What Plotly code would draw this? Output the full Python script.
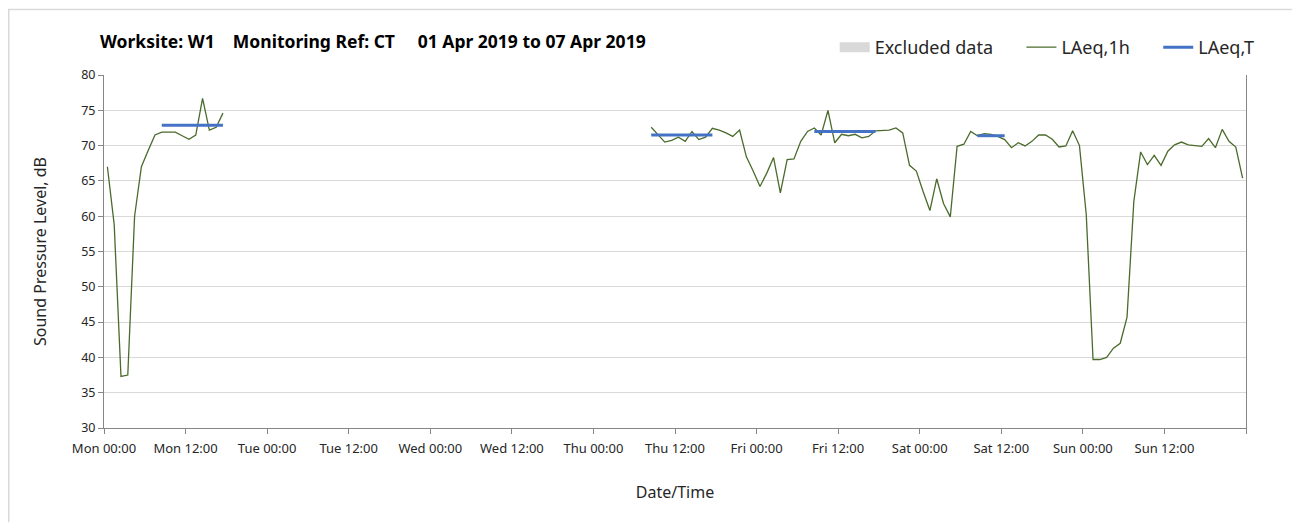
import pandas as pd
import plotly.graph_objects as go

# ---------------- data ----------------
title_text = ("Worksite: W1\u00a0\u00a0\u00a0 Monitoring Ref: CT\u00a0\u00a0\u00a0\u00a0 "
              "01 Apr 2019 to 07 Apr 2019")

# hourly LAeq,1h (timestamps at mid-hour)
mon_start = "2019-04-01 00:30"
mon_values = [67.0, 58.8, 37.3, 37.5, 60.0, 67.0, 69.3, 71.5, 71.9, 71.9, 71.9, 71.4,
              70.9, 71.5, 76.7, 72.2, 72.6, 74.6]

thu_start = "2019-04-04 08:30"
thu_sun_values = [
    # Thu 08:30 - 23:30
    72.6, 71.6, 70.5, 70.75, 71.2, 70.6, 72.0, 70.85, 71.2, 72.45, 72.2, 71.8, 71.3, 72.2, 68.4, 66.4,
    # Fri
    64.2, 66.1, 68.3, 63.3, 68.0, 68.1, 70.6, 72.0, 72.5, 71.5, 75.0, 70.4,
    71.6, 71.4, 71.6, 71.1, 71.3, 72.1, 72.1, 72.2, 72.5, 71.8, 67.2, 66.4,
    # Sat
    63.5, 60.8, 65.3, 61.8, 59.9, 69.9, 70.2, 72.0, 71.4, 71.7, 71.6, 71.3,
    70.85, 69.7, 70.4, 69.95, 70.6, 71.5, 71.5, 70.9, 69.8, 69.95, 72.1, 70.0,
    # Sun
    60.2, 39.7, 39.7, 40.0, 41.3, 42.0, 45.7, 62.1, 69.1, 67.3, 68.6, 67.2,
    69.2, 70.1, 70.5, 70.1, 70.0, 69.9, 71.0, 69.7, 72.3, 70.6, 69.8, 65.4,
]

# LAeq,T periods
period_starts = ["2019-04-01 08:30", "2019-04-04 08:30", "2019-04-05 08:30", "2019-04-06 08:30"]
period_ends = ["2019-04-01 17:30", "2019-04-04 17:30", "2019-04-05 17:30", "2019-04-06 12:30"]
period_values = [72.9, 71.5, 72.0, 71.4]

x_start = "2019-04-01 00:00"
x_end = "2019-04-08 00:00"

# ---------------- build series ----------------
mon_times = list(pd.date_range(mon_start, periods=len(mon_values), freq="h"))
thu_times = list(pd.date_range(thu_start, periods=len(thu_sun_values), freq="h"))
x_1h = mon_times + [None] + thu_times
y_1h = mon_values + [None] + thu_sun_values

x_T, y_T = [], []
for s, e, v in zip(period_starts, period_ends, period_values):
    x_T += [pd.Timestamp(s), pd.Timestamp(e), None]
    y_T += [v, v, None]

tick_times = pd.date_range(x_start, x_end, freq="12h")
tick_text = [t.strftime("%a %H:%M") for t in tick_times[:-1]] + [""]

FONT = "Noto Sans"
GREEN = "#4a6b2c"
BLUE = "#4472C4"
GREY = "#d9d9d9"
AXIS = "#868686"
TXT = "#262626"
SP = "\u00a0"

# page has an 8px body margin, so the figure is 8px smaller than the window
W, H = 1292, 514
ML, MR, MT, MB = 96, 54, 66.5, 93.5
PW, PH = W - ML - MR, H - MT - MB

fig = go.Figure()
fig.add_trace(go.Scatter(x=[None], y=[None], mode="lines", name="Excluded data" + SP * 5,
                         line=dict(color=GREY, width=10), xaxis="x2", yaxis="y"))
fig.add_trace(go.Scatter(x=x_1h, y=y_1h, mode="lines", name="LAeq,1h" + SP * 5,
                         line=dict(color=GREEN, width=1.3), connectgaps=False,
                         xaxis="x2", yaxis="y"))
fig.add_trace(go.Scatter(x=x_T, y=y_T, mode="lines", name="LAeq,T",
                         line=dict(color=BLUE, width=3), xaxis="x2", yaxis="y"))

# frame border (top & left edges of chart area; right/bottom fall outside the page)
fig.add_shape(type="rect", xref="paper", yref="paper",
              x0=(0.75 - ML) / PW, x1=(W + 10 - ML) / PW,
              y0=-(MB + 10) / PH, y1=1 + (MT - 0.75) / PH,
              line=dict(color=GREY, width=1.5), fillcolor="rgba(0,0,0,0)", layer="below")

fig.update_layout(
    width=W, height=H,
    margin=dict(l=ML, r=MR, t=MT, b=MB, autoexpand=False),
    paper_bgcolor="white", plot_bgcolor="white",
    font=dict(family=FONT, color=TXT, size=12),
    title=dict(text="<b>" + title_text + "</b>", x=92 / W, xanchor="left",
               y=1 - 34 / H, yanchor="middle",
               font=dict(family=FONT, size=17.5, color="#000000")),
    showlegend=True,
    legend=dict(orientation="h", x=1.012, xanchor="right", y=1.078, yanchor="middle",
                font=dict(family=FONT, size=18, color=TXT), bgcolor="rgba(0,0,0,0)",
                itemwidth=30, tracegroupgap=0),
    xaxis=dict(
        type="date", range=[x_start, x_end],
        showgrid=True, gridcolor=GREY, gridwidth=1,
        tick0=x_start, dtick=86400000,
        showticklabels=False, ticks="",
        showline=True, linecolor=AXIS, linewidth=1, mirror=True,
        zeroline=False, automargin=False,
    ),
    xaxis2=dict(
        type="date", range=[x_start, x_end], overlaying="x", side="bottom",
        showgrid=False,
        tickmode="array", tickvals=list(tick_times), ticktext=tick_text,
        ticks="outside", ticklen=5, tickcolor=AXIS, ticklabelstandoff=3,
        tickfont=dict(family=FONT, size=13, color=TXT),
        showline=True, linecolor=AXIS, linewidth=1,
        title=dict(text="Date/Time", font=dict(family=FONT, size=16, color=TXT), standoff=31),
        zeroline=False, automargin=False,
    ),
    yaxis=dict(
        range=[30, 80], dtick=5, tick0=30,
        showgrid=True, gridcolor=GREY, gridwidth=1,
        ticks="outside", ticklen=5, tickcolor=AXIS,
        tickfont=dict(family=FONT, size=12.5, color=TXT),
        showline=True, linecolor=AXIS, linewidth=1, mirror=True,
        title=dict(text="Sound Pressure Level, dB", font=dict(family=FONT, size=16, color=TXT),
                   standoff=30),
        zeroline=False, automargin=False,
    ),
)

fig.write_html("out.html")
